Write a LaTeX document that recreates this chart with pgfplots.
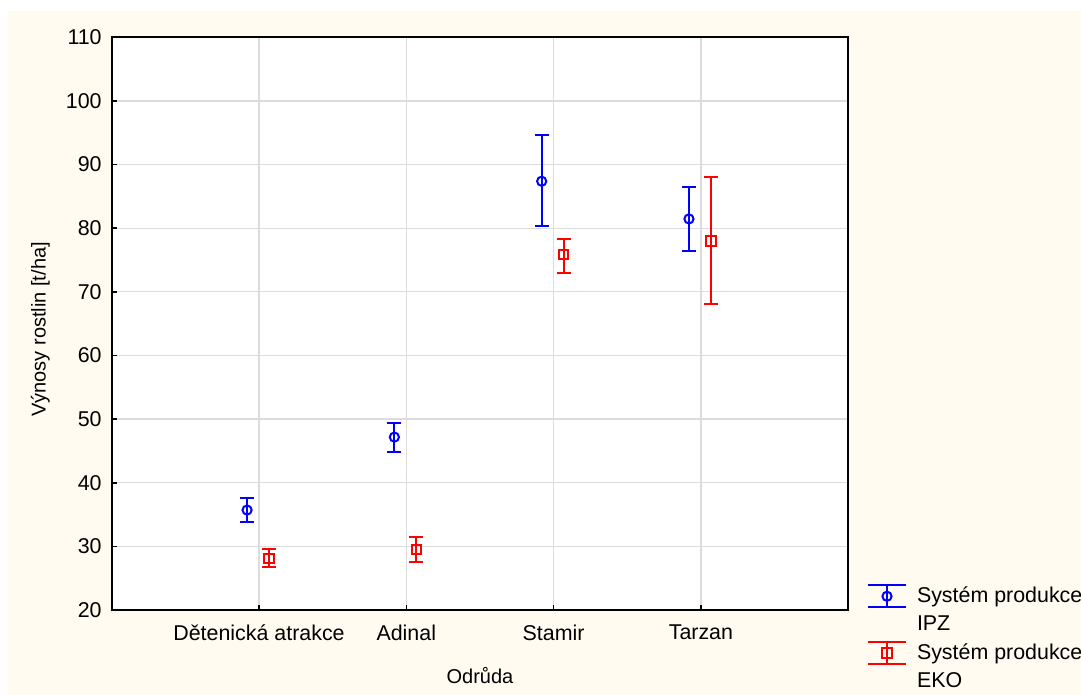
\documentclass[border=0pt]{standalone}
\usepackage{pgfplots}
\pgfplotsset{compat=1.18}
\usepackage{fontspec}
\setmainfont{Liberation Sans}
\definecolor{cream}{HTML}{FFFBF0}
\definecolor{gridc}{HTML}{DCDCDC}
\newcommand{\ff}{\fontsize{10.7pt}{14pt}\selectfont}
\pgfplotstableread{
x y ep em
0.919 35.71 1.83 1.84
1.919 47.17 2.20 2.35
2.919 87.38 7.34 7.02
3.919 81.46 5.03 5.07
}\ipz
\pgfplotstableread{
x y ep em
1.068 28.12 1.46 1.41
2.068 29.47 1.95 1.88
3.068 75.81 2.51 2.83
4.068 78.00 10.01 9.99
}\eko
\begin{document}
\begin{tikzpicture}[x=0.5pt,y=0.5pt]
\path[use as bounding box, fill=white] (0,0) rectangle (1081,695);
\fill[cream] (8,0) rectangle (1081,684);
\begin{axis}[
  at={(55.85pt,42.5pt)}, anchor=south west,
  scale only axis, width=368.25pt, height=286.35pt,
  xmin=0, xmax=5, ymin=20, ymax=110,
  ytick={20,30,...,110},
  xtick={1,2,3,4},
  xticklabels={Dětenická atrakce,Adinal,Stamir,Tarzan},
  grid=major, grid style={gridc, line width=0.6pt},
  axis background/.style={fill=white},
  axis line style={black, line width=1pt},
  tick style={black, line width=0.8pt},
  major tick length=2.5pt, tick align=inside,
  xtick pos=bottom, ytick pos=left,
  /pgf/number format/assume math mode=true,
  ticklabel style={font=\ff},
  yticklabel style={xshift=-1.5pt},
  xticklabel style={yshift=-4pt},
  label style={font=\ff},
  xlabel={Odrůda},
  ylabel={Výnosy rostlin [t/ha]},
  every axis x label/.style={at={(axis description cs:0.5,-0.115)}, anchor=center},
  every axis y label/.style={at={(axis description cs:-0.097,0.49)}, rotate=90, anchor=center},
  legend style={draw=none, fill=none, font=\ff, at={(axis description cs:1.025,0.048)}, anchor=north west, nodes={align=left}, row sep=1pt, inner sep=0pt},
  legend cell align=left,
  legend image code/.code={
    \path[draw=none, fill=none] (0pt,3pt) -- (22.5pt,3pt);
    \draw[#1, mark=none] (0pt,1.5pt) -- (19pt,1.5pt);
    \draw[#1, mark=none] (0pt,12.5pt) -- (19pt,12.5pt);
    \draw[#1, mark=none] (9.5pt,1.5pt) -- (9.5pt,12.5pt);
    \draw[#1] plot coordinates {(9.5pt,7pt)};
  },
]
\addplot[blue, line width=1pt, only marks, mark=o, mark size=2.3pt, mark options={line width=1pt},
  error bars/.cd, y dir=both, y explicit,
  error bar style={line width=1pt},
  error mark options={rotate=90, mark size=3.5pt, line width=1pt}]
  table[x=x, y=y, y error plus=ep, y error minus=em] {\ipz};
\addlegendentry{Systém produkce\\IPZ}
\addplot[red, line width=1pt, only marks, mark=square, mark size=2.3pt, mark options={line width=1pt},
  error bars/.cd, y dir=both, y explicit,
  error bar style={line width=1pt},
  error mark options={rotate=90, mark size=3.5pt, line width=1pt}]
  table[x=x, y=y, y error plus=ep, y error minus=em] {\eko};
\addlegendentry{Systém produkce\\EKO}
\end{axis}
\end{tikzpicture}
\end{document}
